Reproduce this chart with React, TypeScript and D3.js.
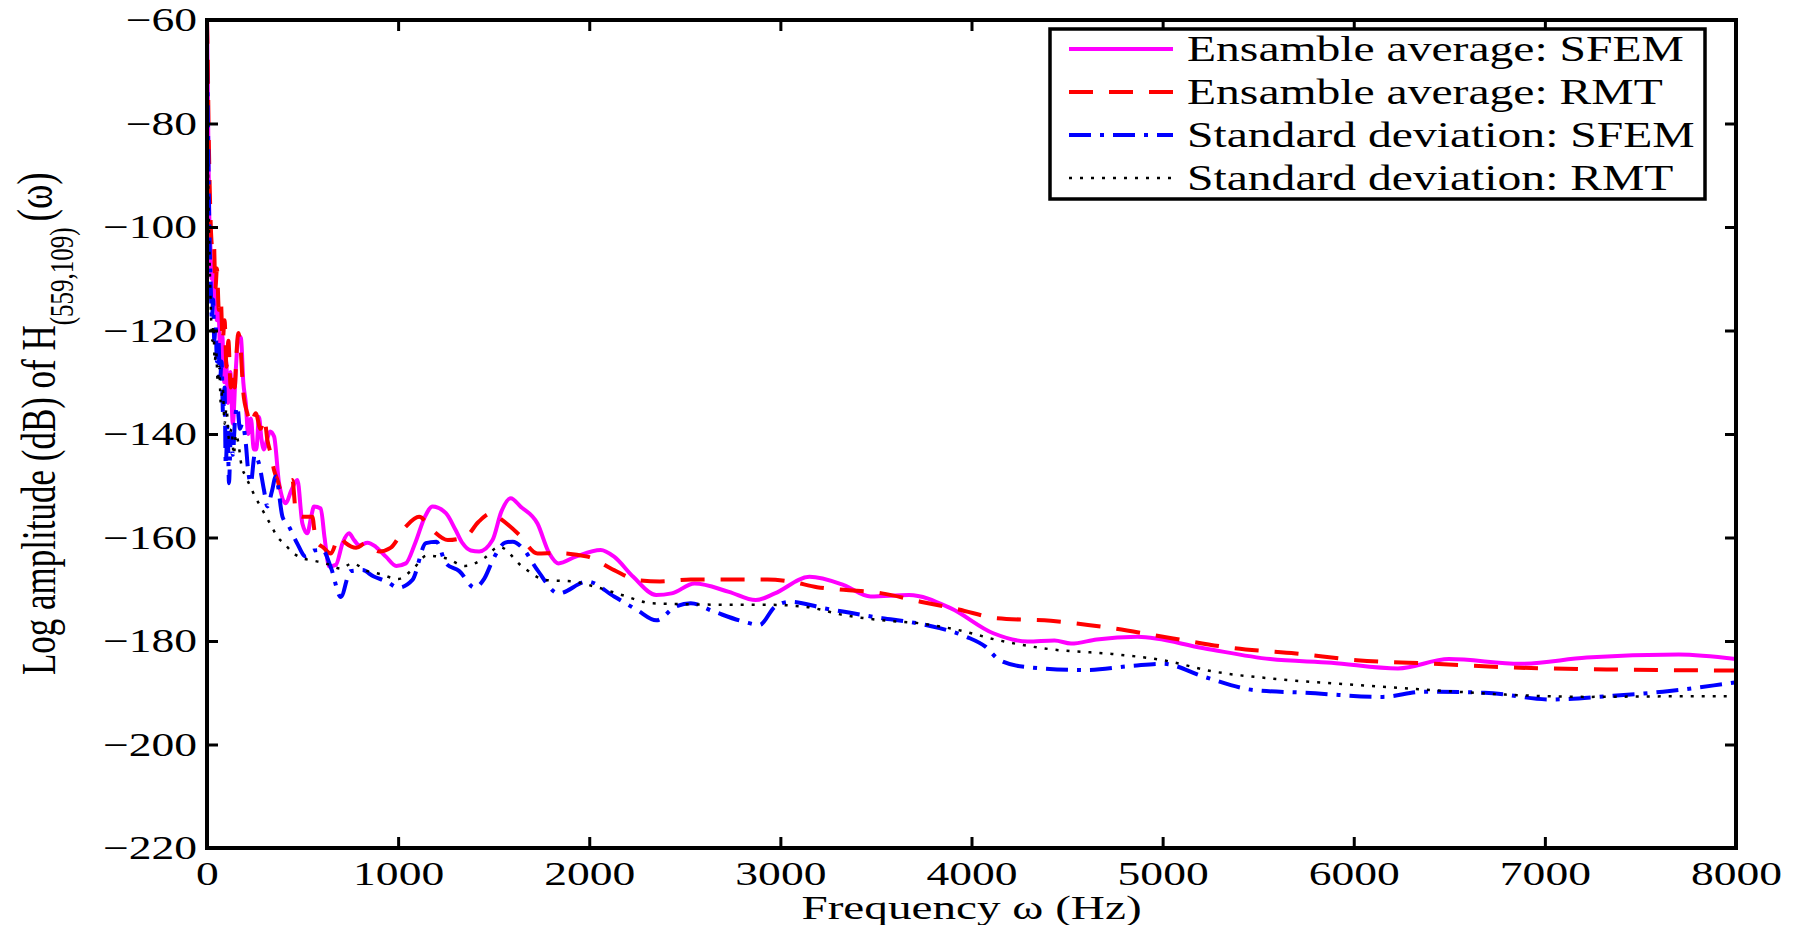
import { useEffect, useRef } from 'react';
import * as d3 from 'd3';

// Ensemble average, SFEM (magenta solid)
const avgSfemFreq = [0, 4, 8, 12, 18, 24, 30, 36, 44, 52, 60, 70, 80, 90, 100, 110, 122, 135, 150, 165, 178, 190, 203, 215, 230, 245, 258, 272, 285, 298, 315, 330, 351, 377, 412, 440, 473, 499, 525, 545, 560, 595, 615, 639, 674, 710, 743, 770, 796, 840, 883, 936, 990, 1040, 1090, 1140, 1180, 1250, 1300, 1337, 1380, 1424, 1494, 1540, 1589, 1640, 1729, 1790, 1839, 1929, 2060, 2130, 2230, 2350, 2431, 2551, 2731, 2871, 2971, 3152, 3332, 3472, 3673, 3893, 4114, 4294, 4434, 4521, 4655, 4868, 5215, 5563, 5883, 6231, 6498, 6872, 7219, 7700, 8000];
const avgSfemDb = [-60, -72, -88, -98, -104, -110, -107, -115, -112, -118, -116, -126, -121, -130, -126, -134, -128, -138, -128, -121, -121.5, -130, -134, -140, -137, -143, -143, -136.7, -141, -143, -141, -139.5, -140.5, -149.5, -153.4, -151, -148.9, -157.3, -159.2, -156, -154, -154.4, -160, -165.6, -165.3, -161, -159.2, -160.5, -161.5, -161, -161.8, -163.7, -165.5, -165, -161, -156, -154, -155.3, -158.5, -161.1, -162.5, -162.7, -160.5, -155, -152.4, -154, -157.3, -163, -165, -163.7, -162.4, -163.7, -167.6, -171.1, -170.8, -168.9, -170.5, -172.1, -170.8, -167.6, -169.2, -171.4, -171.1, -173.7, -178.5, -180.1, -179.9, -180.5, -179.7, -179.2, -181.4, -183.5, -184.2, -185.3, -183.5, -184.4, -183.2, -182.6, -183.5];

// Ensemble average, RMT (red dashed)
const avgRmtFreq = [0, 4, 8, 14, 20, 28, 36, 44, 52, 62, 72, 82, 92, 102, 112, 124, 135, 145, 155, 164, 175, 190, 211, 230, 255, 280, 300, 316, 335, 351, 370, 386, 410, 447, 464, 500, 551, 569, 610, 648, 691, 726, 780, 831, 901, 960, 1040, 1110, 1180, 1260, 1355, 1420, 1490, 1540, 1634, 1729, 1829, 1990, 2130, 2250, 2370, 2531, 2731, 2932, 3052, 3192, 3332, 3532, 3733, 3933, 4134, 4415, 4733, 5055, 5376, 5697, 6016, 6418, 6817, 7351, 8000];
const avgRmtDb = [-60, -68, -80, -92, -100, -104, -103, -112, -108, -116, -114, -122, -118, -127, -122, -131, -128, -131, -124, -120.5, -123, -132, -136, -138, -136, -139, -137, -141.2, -144, -147, -149, -150.8, -150, -148.9, -154.7, -156, -156, -160.5, -162, -163.1, -159.8, -161.1, -162, -161.1, -162.7, -162, -157.9, -156, -158.6, -160.5, -159.8, -157, -155.3, -156.5, -159.5, -163.1, -163, -163.7, -166.3, -168.2, -168.5, -168.1, -168.1, -168.1, -168.5, -169.6, -170.1, -170.8, -172.4, -173.9, -175.6, -176.1, -177.5, -179.5, -181.4, -182.4, -183.7, -184.4, -185.1, -185.5, -185.7];

// Standard deviation, SFEM (blue dash-dot)
const stdSfemFreq = [0, 5, 10, 15, 20, 26, 32, 38, 45, 52, 60, 68, 76, 84, 92, 98, 108, 115, 125, 135, 147, 159, 172, 185, 203, 215, 229, 250, 272, 298, 316, 340, 360, 395, 429, 470, 517, 560, 604, 650, 700, 750, 813, 870, 940, 1000, 1075, 1145, 1200, 1250, 1320, 1400, 1450, 1500, 1560, 1600, 1650, 1729, 1839, 1990, 2130, 2250, 2351, 2450, 2531, 2651, 2812, 2891, 2971, 3052, 3232, 3373, 3533, 3673, 3833, 3974, 4073, 4147, 4280, 4601, 4842, 5002, 5215, 5482, 5749, 6151, 6364, 6685, 7032, 7351, 7618, 7940, 8000];
const stdSfemDb = [-68, -80, -95, -105, -112, -118, -114, -122, -119, -126, -122, -130, -126, -136, -131, -146, -138, -149.5, -140, -144, -137, -134.7, -139, -138, -141.8, -147, -149.5, -144, -145.7, -150.8, -154, -151, -148.2, -156, -157.9, -161, -163.7, -162.5, -162.4, -166, -171.5, -166.5, -166.3, -167.5, -168.5, -169.7, -168.2, -161.1, -160.8, -165, -166.5, -169.7, -168, -164, -161, -160.8, -162, -166.3, -170.8, -168.5, -171.4, -174, -176, -173.4, -172.7, -174.3, -176.3, -176.9, -173.4, -172.4, -173.7, -174.6, -175.6, -176.3, -177.5, -179.2, -181.1, -183.7, -185, -185.6, -184.8, -184.4, -186.9, -189.5, -190, -190.8, -189.8, -190, -191.3, -190.6, -189.8, -188.3, -188];

// Standard deviation, RMT (black dotted)
const stdRmtFreq = [0, 5, 10, 16, 22, 28, 34, 40, 48, 56, 64, 72, 82, 92, 102, 115, 128, 140, 152, 165, 180, 200, 225, 250, 280, 310, 340, 370, 400, 450, 500, 560, 620, 700, 760, 840, 900, 1000, 1080, 1150, 1250, 1350, 1450, 1529, 1649, 1770, 1910, 2030, 2170, 2330, 2531, 2731, 2932, 3132, 3332, 3533, 3733, 3933, 4134, 4414, 4733, 5000, 5267, 5615, 6016, 6418, 6817, 7219, 7618, 8000];
const stdRmtDb = [-75, -88, -100, -110, -118, -122, -119, -126, -124, -130, -127, -134, -131, -138, -135, -141, -139, -144, -140, -142, -146, -148, -150, -152, -154, -156, -158, -160, -161, -163, -164, -164.5, -165, -166, -165, -166.5, -167, -168, -166, -163.5, -164, -165.5, -164, -161.8, -165.6, -168.2, -168.5, -169.5, -171.1, -172.7, -172.9, -173, -173, -173.4, -175, -176, -176.6, -177.9, -179.8, -181.6, -182.5, -183.7, -185.9, -187.4, -188.5, -189.5, -190.4, -190.8, -190.7, -190.7];

const xTicks = [0, 1000, 2000, 3000, 4000, 5000, 6000, 7000, 8000];
const yTicks = [-60, -80, -100, -120, -140, -160, -180, -200, -220];

const legendLabels = [
  'Ensamble average: SFEM',
  'Ensamble average: RMT',
  'Standard deviation: SFEM',
  'Standard deviation: RMT',
];

const FONT = '"Liberation Serif", "Times New Roman", serif';

export default function App() {
  const svgRef = useRef<SVGSVGElement>(null);

  useEffect(() => {
    const svg = d3.select(svgRef.current);
    svg.selectAll('*').remove();

    const left = 207, right = 1736, top = 20, bottom = 848;

    const x = d3.scaleLinear().domain([0, 8000]).range([left, right]);
    const y = d3.scaleLinear().domain([-220, -60]).range([bottom, top]);

    // estilos de las series
    const series = [
      { f: avgSfemFreq, v: avgSfemDb, color: '#ff00ff', width: 4, dash: null },
      { f: avgRmtFreq, v: avgRmtDb, color: '#ff0000', width: 4, dash: '24,16' },
      { f: stdSfemFreq, v: stdSfemDb, color: '#0000ff', width: 4, dash: '22,9,4,9' },
      { f: stdRmtFreq, v: stdRmtDb, color: '#000000', width: 2.5, dash: '3,8' },
    ];

    svg.append('defs').append('clipPath').attr('id', 'plotClip')
      .append('rect')
      .attr('x', left).attr('y', top - 2)
      .attr('width', right - left).attr('height', bottom - top + 2);

    const line = d3.line<[number, number]>()
      .x(d => x(d[0]))
      .y(d => y(d[1]))
      .curve(d3.curveMonotoneX);

    const plot = svg.append('g').attr('clip-path', 'url(#plotClip)');
    series.forEach(s => {
      const pts = s.f.map((f, i) => [f, s.v[i]] as [number, number]);
      plot.append('path')
        .datum(pts)
        .attr('fill', 'none')
        .attr('stroke', s.color)
        .attr('stroke-width', s.width)
        .attr('stroke-dasharray', s.dash)
        .attr('stroke-linejoin', 'round')
        .attr('d', line);
    });

    // Ejes (ticks hacia adentro)
    const styleAxis = (g: any) => {
      g.select('.domain').remove();
      g.selectAll('.tick line').attr('stroke', '#000').attr('stroke-width', 3);
      g.selectAll('.tick text')
        .attr('fill', '#000')
        .style('font-family', FONT)
        .style('font-size', '33px')
        .attr('transform', 'scale(1.38,1)');
    };

    svg.append('g')
      .attr('transform', `translate(0,${bottom})`)
      .call(d3.axisBottom(x).tickValues(xTicks).tickSizeInner(-11).tickSizeOuter(0).tickPadding(13.6).tickFormat(d3.format('d')))
      .call(styleAxis);

    svg.append('g')
      .attr('transform', `translate(${left},0)`)
      .call(d3.axisLeft(y).tickValues(yTicks).tickSizeInner(-11).tickSizeOuter(0).tickPadding(7.2))
      .call(styleAxis);

    svg.append('g')
      .attr('transform', `translate(0,${top})`)
      .call(d3.axisTop(x).tickValues(xTicks.slice(1, -1)).tickSizeInner(-11).tickSizeOuter(0).tickFormat(() => ''))
      .call(styleAxis);

    svg.append('g')
      .attr('transform', `translate(${right},0)`)
      .call(d3.axisRight(y).tickValues(yTicks.slice(1, -1)).tickSizeInner(-11).tickSizeOuter(0).tickFormat(() => ''))
      .call(styleAxis);

    svg.append('rect')
      .attr('x', left).attr('y', top)
      .attr('width', right - left).attr('height', bottom - top)
      .attr('fill', 'none').attr('stroke', '#000').attr('stroke-width', 4);

    // Etiqueta eje X
    svg.append('text')
      .attr('transform', `translate(${(left + right) / 2},919) scale(1.43,1)`)
      .attr('text-anchor', 'middle')
      .style('font-family', FONT)
      .style('font-size', '33px')
      .text('Frequency ω (Hz)');

    // Etiqueta eje Y
    const yl = svg.append('text')
      .attr('transform', 'translate(55,675) scale(1.38,1) rotate(-90)')
      .attr('text-anchor', 'start')
      .style('font-family', FONT)
      .style('font-size', '35px');
    yl.append('tspan').text('Log amplitude (dB) of H');
    yl.append('tspan').attr('dy', 13).style('font-size', '25px').text('(559,109)');
    yl.append('tspan').attr('dy', -15).attr('dx', 6).style('font-size', '37px').text('(ω)');

    // Leyenda
    const lg = svg.append('g');
    lg.append('rect')
      .attr('x', 1050).attr('y', 29)
      .attr('width', 655).attr('height', 170)
      .attr('fill', '#fff').attr('stroke', '#000').attr('stroke-width', 3.5);

    const rowY = [49, 92, 135, 178];
    series.forEach((s, i) => {
      lg.append('line')
        .attr('x1', 1069).attr('x2', 1173)
        .attr('y1', rowY[i]).attr('y2', rowY[i])
        .attr('stroke', s.color)
        .attr('stroke-width', s.width)
        .attr('stroke-dasharray', s.dash);
      lg.append('text')
        .attr('transform', `translate(1187,${rowY[i] + 12}) scale(1.36,1)`)
        .style('font-family', FONT)
        .style('font-size', '35px')
        .text(legendLabels[i]);
    });
  }, []);

  return (
    <svg
      ref={svgRef}
      width={1800}
      height={925}
      style={{ position: 'absolute', left: 0, top: 0, background: '#fff' }}
    />
  );
}
